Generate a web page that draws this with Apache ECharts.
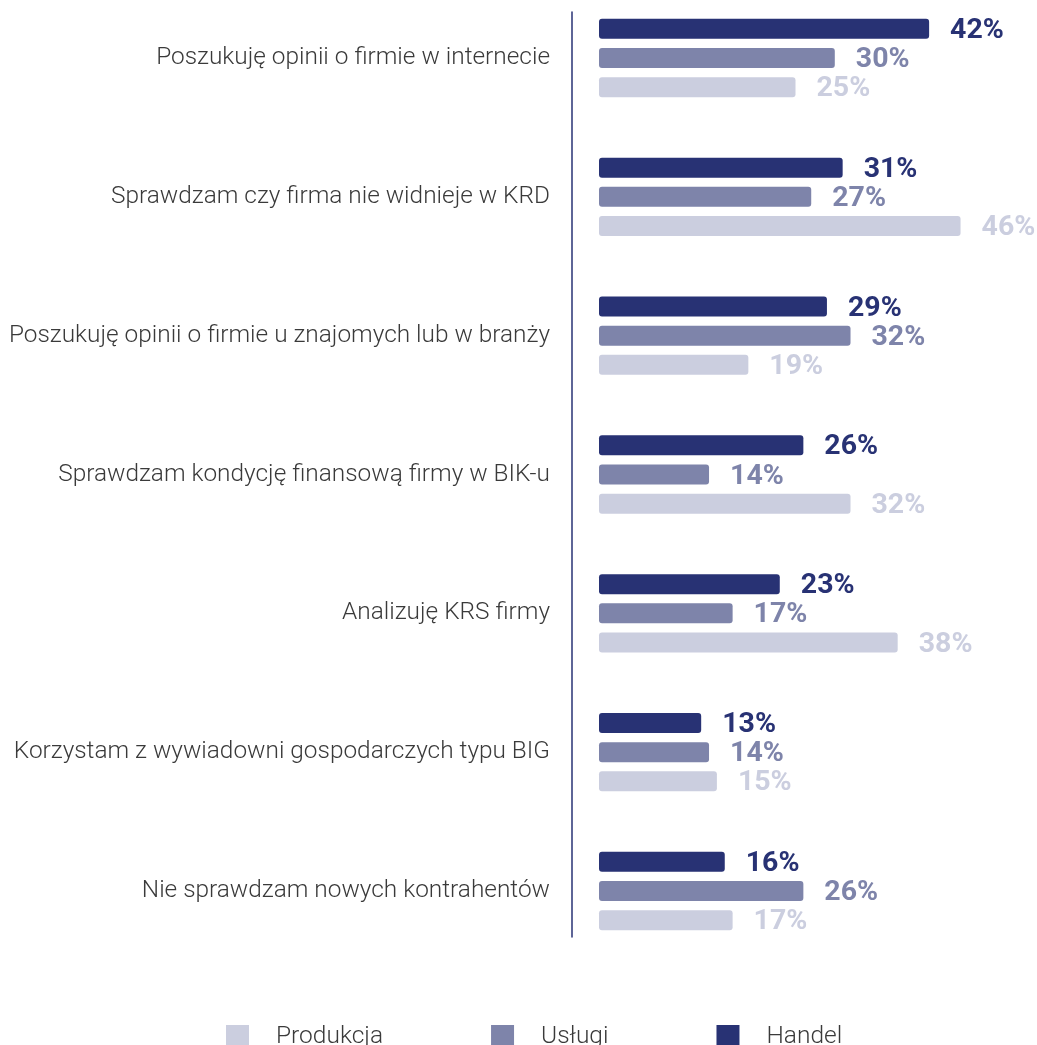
<!DOCTYPE html>
<html><head><meta charset="utf-8">
<script src="https://cdn.jsdelivr.net/npm/echarts@6/dist/echarts.min.js"></script>
<style>html,body{margin:0;padding:0;background:#fff}#c{width:1037px;height:1045px}</style>
</head><body><div id="c"></div>
<script>
const categories = [
  "Poszukuję opinii o firmie w internecie",
  "Sprawdzam czy firma nie widnieje w KRD",
  "Poszukuję opinii o firmie u znajomych lub w branży",
  "Sprawdzam kondycję finansową firmy w BIK-u",
  "Analizuję KRS firmy",
  "Korzystam z wywiadowni gospodarczych typu BIG",
  "Nie sprawdzam nowych kontrahentów"
];
const handel = [42, 31, 29, 26, 23, 13, 16];
const uslugi = [30, 27, 32, 14, 17, 14, 26];
const produkcja = [25, 46, 19, 32, 38, 15, 17];
const legendOrder = ["Produkcja", "Usługi", "Handel"];

const colors = { Handel: "#283274", "Usługi": "#7e84aa", Produkcja: "#cbcedf" };

function mk(name, data) {
  return {
    name: name, type: "bar", data: data,
    xAxisIndex: 0, yAxisIndex: 0,
    barWidth: 20, barGap: "46%",
    itemStyle: { color: colors[name], borderRadius: 3 },
    label: {
      show: true, position: "right", distance: 20, offset: [1, 2],
      formatter: "{c}%", color: colors[name],
      fontFamily: "Roboto", fontWeight: "bold", fontSize: 28.5
    }
  };
}

const chart = echarts.init(document.getElementById("c"), null, { renderer: "canvas" });
chart.setOption({
  animation: false,
  backgroundColor: "#ffffff",
  grid: [
    { left: 599, right: 45, top: 58, bottom: 154, containLabel: false },
    { left: 572, right: 45, top: 12, bottom: 108, containLabel: false }
  ],
  xAxis: [
    { type: "value", gridIndex: 0, min: 0, max: 50, show: false },
    { type: "value", gridIndex: 1, min: 0, max: 1, show: false }
  ],
  yAxis: [
    {
      type: "category", gridIndex: 0, data: categories, inverse: true, boundaryGap: false,
      axisLine: { show: false }, axisTick: { show: false },
      axisLabel: { margin: 49, color: "#3a3a3a", fontFamily: "Roboto", fontWeight: 300, fontSize: 24.4, padding: [3, 0, 0, 0] }
    },
    {
      type: "value", gridIndex: 1, min: 0, max: 1,
      axisLine: { show: true, lineStyle: { color: "#283274", width: 1.5 } },
      axisTick: { show: false }, axisLabel: { show: false }, splitLine: { show: false }
    }
  ],
  legend: {
    data: legendOrder, top: 1019, left: 221, itemGap: 108,
    itemWidth: 23, itemHeight: 23, icon: "rect",
    textStyle: { color: "#3a3a3a", fontFamily: "Roboto", fontWeight: 300, fontSize: 24.5, padding: [0, 0, 0, 22] }
  },
  series: [mk("Handel", handel), mk("Usługi", uslugi), mk("Produkcja", produkcja)]
});
</script></body></html>
